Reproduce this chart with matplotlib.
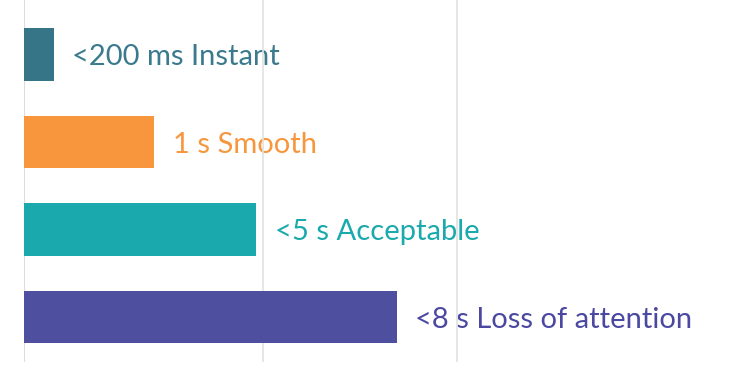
import matplotlib.pyplot as plt

labels = ["<200 ms Instant", "1 s Smooth", "<5 s Acceptable", "<8 s Loss of attention"]
values = [0.31, 1.35, 2.40, 3.85]
colors = ["#367588", "#F7963D", "#1AA9AC", "#4F4F9F"]
text_colors = ["#3A7A8C", "#F7963D", "#1AA9AC", "#4A48A0"]
grid_at = [2.47, 4.47]

fig = plt.figure(figsize=(7.5, 3.68), dpi=100)
ax = fig.add_axes([23.5 / 750, 6 / 368, 1 - 23.5 / 750, 362 / 368])

pos = range(len(values))
ax.barh(pos, values, height=0.6, color=colors, zorder=2)

for g in grid_at:
    ax.axvline(g, color="#E2E2E2", lw=1.2, zorder=1.5)
ax.axvline(0, color="#DDDDDD", lw=1.5, zorder=1.5)

for i, (v, lab) in enumerate(zip(values, labels)):
    ax.text(v + 0.19, i, lab, va="center_baseline", ha="left", fontsize=21,
            family="Lato", color=text_colors[i], zorder=1)

ax.set_xlim(0, 726.5 / 97)
ax.set_ylim(3.514, -0.623)
ax.axis("off")

fig.savefig("out.png", dpi=100)
